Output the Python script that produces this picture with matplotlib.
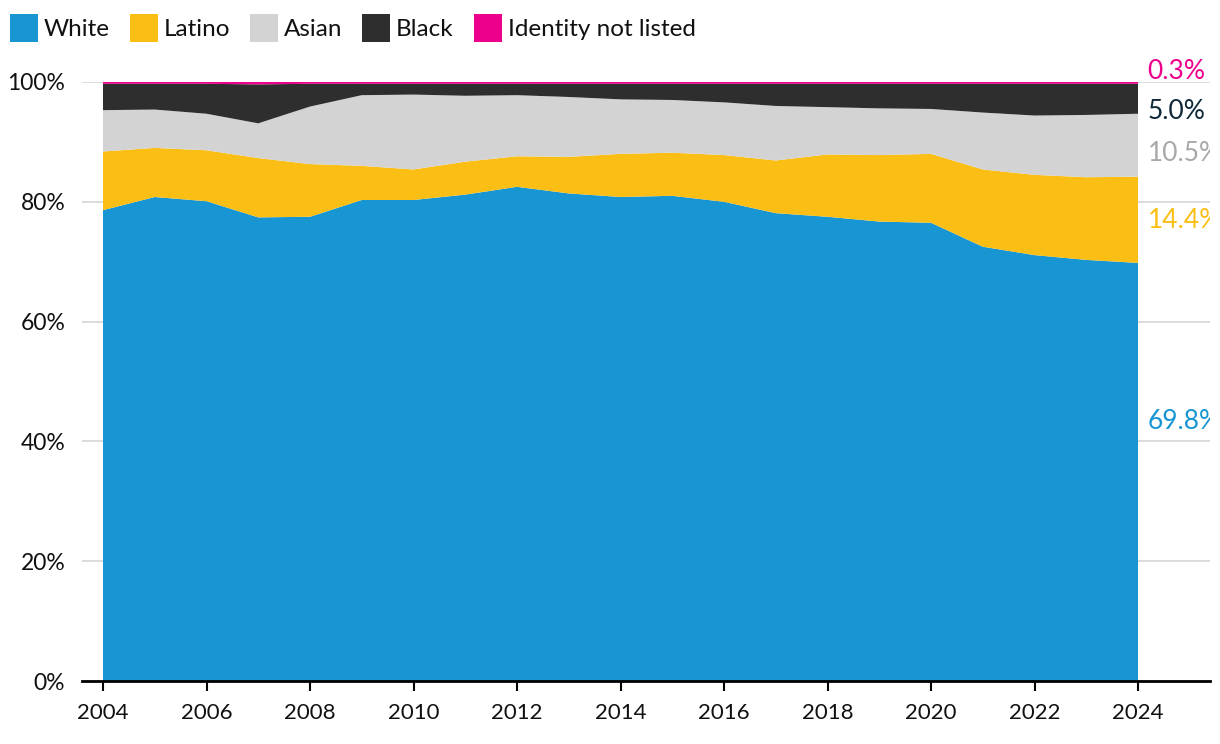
import matplotlib
matplotlib.use("Agg")
import matplotlib.pyplot as plt
from matplotlib.patches import Rectangle
import numpy as np

plt.rcParams['font.family'] = ['Lato', 'DejaVu Sans']

years = list(range(2004, 2025))
white = [78.6, 80.8, 80.1, 77.4, 77.5, 80.3, 80.3, 81.2, 82.5, 81.4, 80.8, 81.0,
         80.0, 78.1, 77.5, 76.7, 76.5, 72.5, 71.1, 70.3, 69.8]
latino = [9.8, 8.2, 8.5, 9.9, 8.8, 5.7, 5.1, 5.5, 5.1, 6.1, 7.2, 7.2,
          7.8, 8.8, 10.4, 11.1, 11.5, 12.9, 13.4, 13.8, 14.4]
asian = [6.9, 6.4, 6.1, 5.8, 9.6, 11.8, 12.5, 11.0, 10.2, 10.0, 9.1, 8.8,
         8.8, 9.1, 7.9, 7.8, 7.5, 9.5, 9.9, 10.4, 10.5]
black = [4.4, 4.3, 5.0, 6.5, 3.8, 1.9, 1.8, 2.0, 1.9, 2.2, 2.6, 2.7,
         3.1, 3.7, 3.9, 4.1, 4.2, 4.8, 5.3, 5.2, 5.0]
not_listed = [0.3, 0.3, 0.3, 0.4, 0.3, 0.3, 0.3, 0.3, 0.3, 0.3, 0.3, 0.3,
              0.3, 0.3, 0.3, 0.3, 0.3, 0.3, 0.3, 0.3, 0.3]

series_names = ["White", "Latino", "Asian", "Black", "Identity not listed"]
colors = ["#1896d3", "#fbbe14", "#d3d3d3", "#2e2e2e", "#ec008c"]
end_label_colors = ["#1896d3", "#fbbe14", "#a8a8a8", "#0e2838", "#ec008c"]
end_label_y = [43.3, 76.8, 88.1, 95.1, 101.7]
xticks = list(range(2004, 2025, 2))
yticks = [0, 20, 40, 60, 80, 100]

fig = plt.figure(figsize=(12.2, 7.44), dpi=100)
ax = fig.add_axes([82/1220, 1-681/744, (1210-82)/1220, (681-82)/744])

data = [white, latino, asian, black, not_listed]
ax.stackplot(years, *data, colors=colors, linewidth=0, antialiased=True, zorder=2)

ax.set_xlim(2004 - 21/51.75, 2024 + 72/51.75)
ax.set_ylim(0, 100)

ax.set_yticks(yticks)
ax.set_yticklabels([f"{v}%" for v in yticks])
ax.set_xticks(xticks)
ax.set_xticklabels([str(v) for v in xticks])
ax.tick_params(axis='y', length=0, pad=12, labelsize=16.5, labelcolor='#111111')
ax.tick_params(axis='x', length=7, width=1.5, color='black', pad=9, labelsize=16,
               labelcolor='#111111')
ax.grid(axis='y', color='#d9d9d9', linewidth=1.3, zorder=0)
ax.set_axisbelow(True)
for s in ['top', 'right', 'left']:
    ax.spines[s].set_visible(False)
ax.spines['bottom'].set_linewidth(2.0)
ax.spines['bottom'].set_color('black')
ax.spines['bottom'].set_zorder(5)

# end labels (clipped at the right edge of the plot, as in the reference)
clip_rect = Rectangle((0, 0), 1210/1220, 1, transform=fig.transFigure,
                      facecolor='none', edgecolor='none')
for vals, ly, col in zip(data, end_label_y, end_label_colors):
    t = ax.annotate(f"{vals[-1]:.1f}%", xy=(years[-1], ly), xytext=(7, 0),
                    textcoords='offset points', ha='left', va='center',
                    fontsize=19, color=col, annotation_clip=False)
    t.set_clip_path(clip_rect)

# legend
legend_x = [10, 130, 250, 362, 474]
for name, col, lx in zip(series_names, colors, legend_x):
    fig.patches.append(Rectangle((lx/1220, 1-42/744), 28/1220, 28/744,
                                 transform=fig.transFigure, facecolor=col,
                                 edgecolor='none'))
    fig.text((lx+34)/1220, 1-30/744, name, ha='left', va='center',
             fontsize=17.5, color='#111111')

fig.savefig("out.png", dpi=100)
